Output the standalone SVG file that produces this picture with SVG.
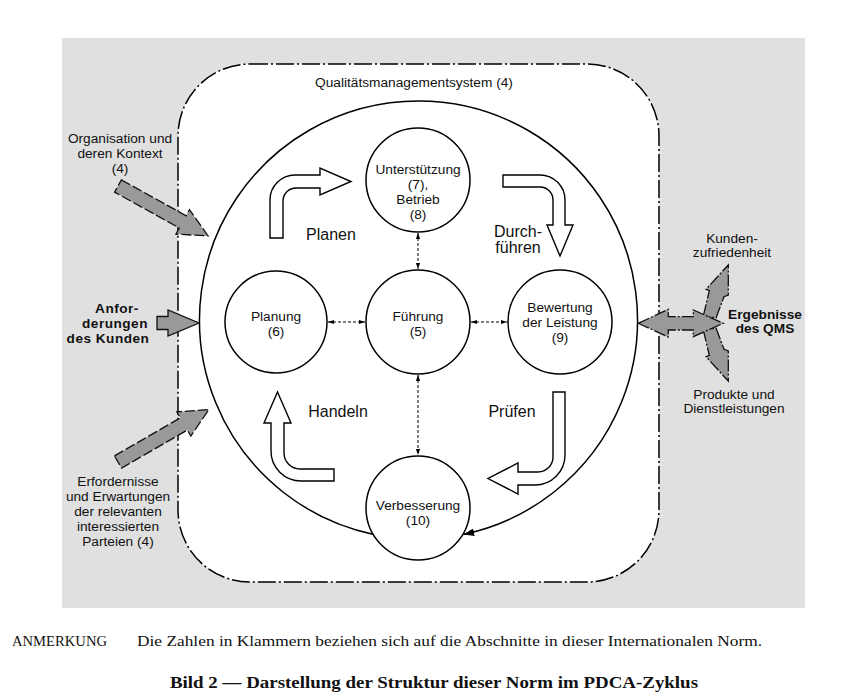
<svg xmlns="http://www.w3.org/2000/svg" width="864" height="699" viewBox="0 0 864 699">
<style>
.lbl{font-family:"Liberation Sans",Arial,sans-serif;font-size:13.7px;fill:#111;text-anchor:middle}
.big{font-size:16px}
.bl{font-weight:bold}
.bl14{font-size:13.6px;letter-spacing:0.5px}
.node circle{fill:#fff;stroke:#000;stroke-width:1.5}
.hollow{fill:#fff;stroke:#000;stroke-width:1.4;stroke-linejoin:miter}
.gray{fill:#999;stroke:#111;stroke-width:1.3;stroke-dasharray:10 3}
.solidg{fill:#999;stroke:#111;stroke-width:1.3}
.graydd{fill:#999;stroke:#111;stroke-width:1.3;stroke-dasharray:12 2 2 2}
.conn{stroke:#000;stroke-width:1;stroke-dasharray:3 2;fill:none}
.foot{font-family:"Liberation Serif","Times New Roman",serif;font-size:14px;fill:#111}
</style>
<defs>
<marker id="sa" viewBox="0 0 10 10" refX="10" refY="5" markerWidth="6" markerHeight="6" markerUnits="userSpaceOnUse" orient="auto-start-reverse">
<path d="M0,1.5 L10,5 L0,8.5 Z" fill="#000"/>
</marker>
<marker id="ba" viewBox="0 0 10 10" refX="10" refY="5" markerWidth="11" markerHeight="11" markerUnits="userSpaceOnUse" orient="auto">
<path d="M0,1.5 L10,5 L0,8.5 Z" fill="#000"/>
</marker>
</defs>

<rect x="62" y="38" width="743" height="570" fill="#e0e0e0"/>

<g id="qms">
<rect x="178" y="64" width="481" height="518" rx="72" ry="72" fill="#fff" stroke="#000" stroke-width="1.5" stroke-dasharray="18 3 2 3"/>
<text class="lbl" x="414" y="87">Qualitätsmanagementsystem (4)</text>
</g>

<g id="connectors">
<path d="M373.8,534.4 A219,219 0 1 1 463.2,534.4" fill="none" stroke="#000" stroke-width="1.5" marker-end="url(#ba)"/>
<line class="conn" x1="418" y1="233" x2="418" y2="269" marker-start="url(#sa)" marker-end="url(#sa)"/>
<line class="conn" x1="418" y1="375" x2="418" y2="455" marker-start="url(#sa)" marker-end="url(#sa)"/>
<line class="conn" x1="328" y1="322" x2="365" y2="322" marker-start="url(#sa)" marker-end="url(#sa)"/>
<line class="conn" x1="471" y1="322" x2="507" y2="322" marker-start="url(#sa)" marker-end="url(#sa)"/>
</g>

<g id="cycle-arrows">
<path class="hollow" d="M270,238 V200 A25,25 0 0 1 295,175 H320 V168 L351,181.5 L320,195 V188 H296 A13,13 0 0 0 283,201 V238 Z"/>
<path class="hollow" d="M503,175 H540 A25,25 0 0 1 565,200 V225 H573 L560,256 L547,225 H553 V200 A13,13 0 0 0 540,187 H503 Z"/>
<path class="hollow" d="M553,392 H565 V455 A30,30 0 0 1 535,485 H518 V494 L488,478.5 L518,463 V472 H538 A15,15 0 0 0 553,457 Z"/>
<path class="hollow" d="M334,469 H300 A16,16 0 0 1 284,453 V423 H291 L277.5,392 L264,423 H271 V451 A30,30 0 0 0 301,481 H334 Z"/>
<text class="lbl big" x="331" y="240">Planen</text>
<text class="lbl big" x="518" y="237">Durch-</text>
<text class="lbl big" x="518" y="253">führen</text>
<text class="lbl big" x="338" y="417">Handeln</text>
<text class="lbl big" x="512" y="417">Prüfen</text>
</g>

<g id="node-unterstuetzung" class="node">
<circle cx="418" cy="180" r="52"/>
<text class="lbl" x="418" y="174">Unterstützung</text>
<text class="lbl" x="418" y="189">(7),</text>
<text class="lbl" x="418" y="204">Betrieb</text>
<text class="lbl" x="418" y="219">(8)</text>
</g>
<g id="node-planung" class="node">
<circle cx="276" cy="322" r="51"/>
<text class="lbl" x="276" y="321">Planung</text>
<text class="lbl" x="276" y="336">(6)</text>
</g>
<g id="node-fuehrung" class="node">
<circle cx="418" cy="322" r="52"/>
<text class="lbl" x="418" y="321">Führung</text>
<text class="lbl" x="418" y="336">(5)</text>
</g>
<g id="node-bewertung" class="node">
<circle cx="560" cy="322" r="52"/>
<text class="lbl" x="560" y="312">Bewertung</text>
<text class="lbl" x="560" y="327">der Leistung</text>
<text class="lbl" x="560" y="342">(9)</text>
</g>
<g id="node-verbesserung" class="node">
<circle cx="418" cy="508" r="52"/>
<text class="lbl" x="418" y="510">Verbesserung</text>
<text class="lbl" x="418" y="525">(10)</text>
</g>

<g id="input-organisation">
<path class="gray" d="M0,-7 H74 V-14 L103,0 L74,14 V7 H0 Z" transform="translate(118,186) rotate(29)"/>
<text class="lbl" x="120" y="143">Organisation und</text>
<text class="lbl" x="120" y="158">deren Kontext</text>
<text class="lbl" x="120" y="173">(4)</text>
</g>
<g id="input-anforderungen">
<path class="solidg" d="M157,316.5 H168 V310 L199,323 L168,336 V329.5 H157 Z"/>
<text class="lbl bl bl14" x="117" y="313">Anfor-</text>
<text class="lbl bl bl14" x="115" y="328">derungen</text>
<text class="lbl bl bl14" x="108" y="343">des Kunden</text>
</g>
<g id="input-erfordernisse">
<path class="gray" d="M0,-7 H76 V-14 L105,0 L76,14 V7 H0 Z" transform="translate(118,462) rotate(-30)"/>
<text class="lbl" x="118" y="486">Erfordernisse</text>
<text class="lbl" x="118" y="501">und Erwartungen</text>
<text class="lbl" x="118" y="516">der relevanten</text>
<text class="lbl" x="118" y="531">interessierten</text>
<text class="lbl" x="118" y="546">Parteien (4)</text>
</g>

<g id="output-ergebnisse">
<path class="graydd" d="M703.3,316 L709.3,290.7 L706,289.3 L728.3,265 L728.3,295 L724,296.7 L716,318 Z"/>
<path class="graydd" d="M703.3,330 L709.3,355.3 L706,356.7 L728.3,381 L728.3,351 L724,349.3 L716,328 Z"/>
<path class="graydd" d="M638.3,323.3 L668.3,309.3 V316.7 H693.3 V310 L723.3,323.3 L693.3,336.7 V330 H668.3 V337 Z"/>
<text class="lbl" x="732" y="243">Kunden-</text>
<text class="lbl" x="732" y="257">zufriedenheit</text>
<text class="lbl bl" x="765" y="319">Ergebnisse</text>
<text class="lbl bl" x="765" y="333">des QMS</text>
<text class="lbl" x="734" y="399">Produkte und</text>
<text class="lbl" x="734" y="413">Dienstleistungen</text>
</g>

<g id="footer">
<text class="foot" x="12" y="646" textLength="95" lengthAdjust="spacingAndGlyphs">ANMERKUNG</text>
<text class="foot" x="137" y="646" textLength="625" lengthAdjust="spacingAndGlyphs">Die Zahlen in Klammern beziehen sich auf die Abschnitte in dieser Internationalen Norm.</text>
<text class="foot" x="170" y="688" style="font-size:17px;font-weight:bold" textLength="528" lengthAdjust="spacingAndGlyphs">Bild 2 — Darstellung der Struktur dieser Norm im PDCA-Zyklus</text>
</g>
</svg>
